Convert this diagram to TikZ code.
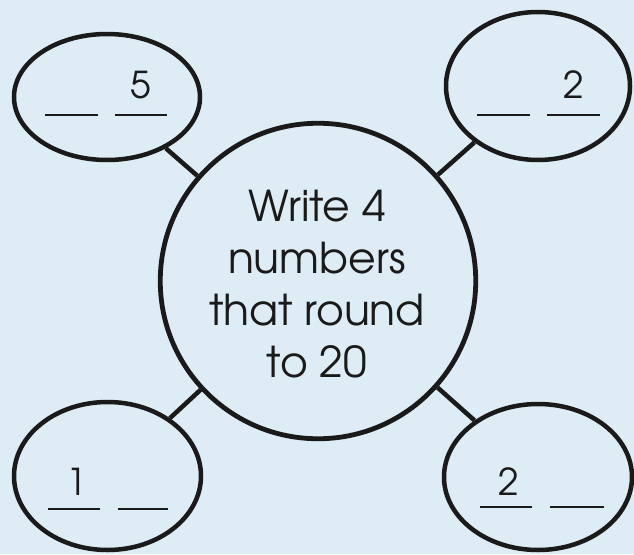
\documentclass[tikz,border=0pt]{standalone}
\usepackage{fontspec}
\setmainfont{texgyreadventor-regular.otf}
\usetikzlibrary{shapes.geometric,calc}
\definecolor{bg}{RGB}{221,236,245}
\definecolor{ink}{RGB}{26,26,26}
\begin{document}
\begin{tikzpicture}[x=1pt,y=-1pt,
  bubble/.style={ellipse,draw=ink,line width=4.5pt,inner sep=0pt},
  link/.style={draw=ink,line width=4.5pt},
  blank/.style={draw=ink,line width=1.8pt},
  digit/.style={font=\fontsize{37}{37}\selectfont,anchor=base,text=ink,inner sep=0pt}]
\fill[bg] (0,0) rectangle (634,554);
\useasboundingbox (0,0) rectangle (634,554);
\node[circle,draw=ink,line width=4.8pt,minimum size=315.5pt,inner sep=0pt] (hub) at (318,281) {};
\node[font=\fontsize{42.5}{52}\selectfont,align=center,text=ink,inner sep=0pt] (txt) at (317,284.5) {Write 4\\numbers\\that round\\to 20};
\node[bubble,minimum width=186pt,minimum height=126pt] (tl) at (107,97) {};
\node[bubble,minimum width=184pt,minimum height=148pt] (tr) at (538,86) {};
\node[bubble,minimum width=187pt,minimum height=148pt] (bl) at (107.5,476) {};
\node[bubble,minimum width=188pt,minimum height=146pt] (br) at (538,477) {};
\draw[link] (hub) -- (tl);
\draw[link] (hub) -- (tr);
\draw[link] (hub) -- (bl);
\draw[link] (hub) -- (br);
% top-left
\node[digit] (tld) at ($(tl)+(34,1)$) {5};
\draw[blank] ($(tl)+(-62,18)$) -- ($(tl)+(-9,18)$);
\draw[blank] ($(tl)+(8,18)$) -- ($(tl)+(60,18)$);
% top-right
\node[digit] (trd) at ($(tr)+(36,12)$) {2};
\draw[blank] ($(tr)+(-61,29)$) -- ($(tr)+(-8,29)$);
\draw[blank] ($(tr)+(9,29)$) -- ($(tr)+(62,29)$);
% bottom-left
\node[digit] (bld) at ($(bl)+(-31,19)$) {1};
\draw[blank] ($(bl)+(-60,33)$) -- ($(bl)+(-8,33)$);
\draw[blank] ($(bl)+(10,33)$) -- ($(bl)+(60,33)$);
% bottom-right
\node[digit] (brd) at ($(br)+(-29,18)$) {2};
\draw[blank] ($(br)+(-58,30)$) -- ($(br)+(-6,30)$);
\draw[blank] ($(br)+(12,30)$) -- ($(br)+(66,30)$);
\end{tikzpicture}
\end{document}
